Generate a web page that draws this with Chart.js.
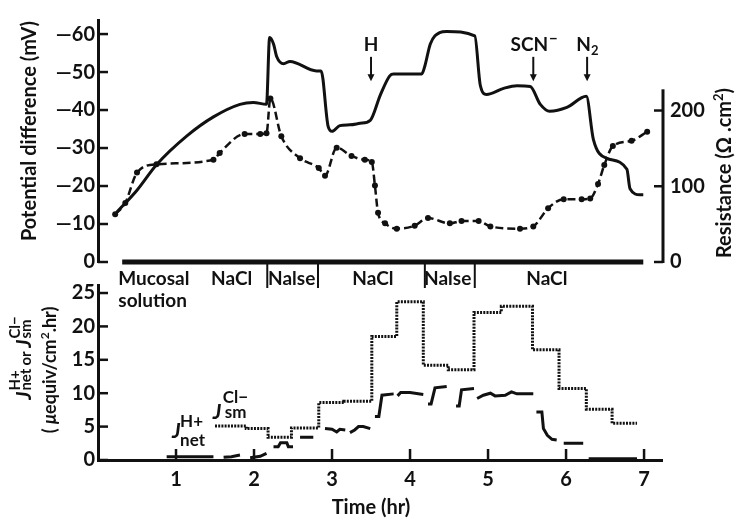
<!DOCTYPE html>
<html>
<head>
<meta charset="utf-8">
<script src="https://cdn.jsdelivr.net/npm/chart.js@4"></script>
<style>
  html, body { margin: 0; padding: 0; background: #fff; }
  #wrap { position: relative; width: 739px; height: 521px; }
  #wrap canvas { position: absolute; left: 0; top: 0; }
</style>
</head>
<body>
<div id="wrap">
  <canvas id="pd-chart" width="739" height="521"></canvas>
  <canvas id="flux-chart" width="739" height="521"></canvas>
</div>
<script>
// potential difference (mV), solid line
const pdTime = [0.24, 0.50, 0.75, 1.14, 1.48, 1.82, 1.99, 2.16, 2.20, 2.25, 2.29, 2.38, 2.46, 2.80, 2.86,
  2.95, 3.00, 3.10, 3.23, 3.36, 3.49, 3.62, 3.74, 3.79, 4.15, 4.19, 4.26, 4.38, 4.47, 4.83,
  4.90, 4.98, 5.20, 5.37, 5.54, 5.67, 5.79, 6.01, 6.26, 6.35, 6.52, 6.78, 6.82, 6.95, 6.99];
const pdValue = [-13.1, -18.9, -25.6, -33.2, -38.2, -41.5, -42.0, -41.5, -59.1, -57.4, -54.1, -52.2, -52.8, -50.3, -50.3,
  -35.7, -34.4, -35.9, -36.1, -36.5, -37.3, -44.0, -49.0, -49.5, -49.5, -51.6, -57.4, -60.4, -60.7, -59.5,
  -46.6, -44.1, -45.7, -46.4, -46.2, -41.5, -39.7, -40.7, -43.6, -32.3, -27.3, -24.4, -19.3, -17.7, -17.7];

// resistance (ohm.cm2), dashed line with dots
const resTime = [0.22, 0.35, 0.50, 0.75, 1.48, 1.56, 1.88, 2.08, 2.16, 2.21, 2.35, 2.59, 2.83, 2.91, 3.06,
  3.25, 3.42, 3.51, 3.55, 3.59, 3.68, 3.83, 4.06, 4.23, 4.51, 4.66, 4.88, 5.03, 5.41, 5.58,
  5.77, 5.97, 6.20, 6.31, 6.41, 6.49, 6.60, 6.84, 7.04];
const resValue = [63, 78, 118, 129, 135, 144, 169, 169, 170, 216, 166, 137, 124, 114, 151,
  140, 135, 132, 101, 65, 51, 44, 48, 58, 51, 54, 54, 47, 44, 47,
  71, 83, 83, 84, 103, 128, 153, 160, 172];

// J sm Cl- (dotted steps): value holds from each time to the next
const clTime = [1.50, 1.90, 2.18, 2.48, 2.83, 3.15, 3.51, 3.83, 4.17, 4.49, 4.82, 5.17, 5.57, 5.91, 6.26, 6.59, 6.91];
const clValue = [5.1, 4.7, 3.4, 4.8, 8.6, 8.8, 18.5, 23.7, 14.2, 13.5, 22.1, 23.0, 16.5, 10.7, 7.6, 5.5, 5.5];

// J net H+ (solid pieces), null = gap between pieces
const hTime = [0.88, 1.48, null, 1.61, 1.71, 1.82, null, 1.95, 2.08, 2.16, null,
  2.25, 2.31, 2.34, 2.42, 2.44, 2.50, null, 2.59, 2.76, null, 2.91, 3.00, 3.06, 3.10, 3.17, null,
  3.23, 3.29, 3.34, 3.40, 3.49, null, 3.55, 3.60, 3.64, 3.79, null, 3.84, 3.88, 4.00, 4.17, null,
  4.23, 4.27, 4.32, 4.47, null, 4.59, 4.63, 4.66, 4.82, null,
  4.86, 4.94, 5.03, 5.09, 5.22, 5.30, 5.37, 5.58, null, 5.62, 5.69, 5.71, 5.76, 5.82, 5.88, null,
  5.97, 6.22, null, 6.29, 6.91];
const hValue = [0.5, 0.5, null, 0.4, 0.5, 0.75, null, 0.35, 0.55, 1.0, null,
  2.0, 2.0, 2.6, 2.6, 2.0, 2.0, null, 3.4, 3.4, null, 4.7, 4.6, 4.2, 4.6, 4.5, null,
  4.1, 4.5, 5.0, 5.0, 4.7, null, 6.5, 6.5, 9.7, 9.9, null, 9.6, 10.1, 10.1, 9.8, null,
  8.4, 8.4, 10.8, 11.0, null, 8.1, 8.1, 10.5, 10.7, null,
  9.2, 9.7, 10.0, 9.6, 9.7, 10.2, 9.9, 9.9, null, 7.2, 7.2, 4.7, 3.7, 3.1, 3.0, null,
  2.5, 2.5, null, 0.2, 0.2];

// mucosal solution changes
const solBarTime = [0.31, 6.99];
const solSwitch = [2.17, 2.82, 4.19, 4.83];
const solLabel = ['NaCl', 'Nalse', 'NaCl', 'Nalse', 'NaCl'];
const solLabelTime = [1.45, 2.18, 3.26, 4.18, 5.49];

// additions marked with arrows
const addLabel = ['H', 'SCN', 'N'];
const addTime = [3.50, 5.58, 6.27];

const ink = '#111';
const FONT = 'Lato, "Open Sans", sans-serif';
const tickFont = { family: FONT, size: 20, weight: 'bold' };

function line(ctx, x1, y1, x2, y2) {
  ctx.beginPath();
  ctx.moveTo(x1, y1);
  ctx.lineTo(x2, y2);
  ctx.stroke();
}

// parts: {t, font, dy} or {stack: [sup, sub], font, dy: [supDy, subDy]}
function drawRich(ctx, parts, x, y, angle) {
  ctx.save();
  ctx.translate(x, y);
  ctx.rotate(angle);
  ctx.textAlign = 'left';
  ctx.textBaseline = 'alphabetic';
  const widths = parts.map(p => {
    ctx.font = p.font;
    const w = p.stack
      ? Math.max(ctx.measureText(p.stack[0]).width, ctx.measureText(p.stack[1]).width)
      : ctx.measureText(p.t).width;
    return w + (p.gap || 0);
  });
  let cx = -widths.reduce((a, b) => a + b, 0) / 2;
  parts.forEach((p, i) => {
    ctx.font = p.font;
    if (p.stack) {
      ctx.fillText(p.stack[0], cx, p.dy[0]);
      ctx.fillText(p.stack[1], cx, p.dy[1]);
    } else {
      ctx.fillText(p.t, cx, p.dy || 0);
    }
    cx += widths[i];
  });
  ctx.restore();
}

const pdDecor = {
  id: 'pdDecor',
  afterDraw(chart) {
    const { ctx, chartArea: a, scales: { x, yPd, yRes } } = chart;
    ctx.save();
    ctx.strokeStyle = ink;
    ctx.fillStyle = ink;

    // inward ticks
    ctx.lineWidth = 2.5;
    yPd.ticks.forEach(t => {
      const y = yPd.getPixelForValue(t.value);
      line(ctx, a.left, y, a.left + 10, y);
    });
    const rx = a.right + 1;
    yRes.ticks.forEach(t => {
      const y = yRes.getPixelForValue(t.value);
      line(ctx, rx - 9, y, rx, y);
    });
    ctx.lineWidth = 3;
    line(ctx, rx, yRes.getPixelForValue(0) + 1, rx, yRes.getPixelForValue(228));

    // solution bar and change marks
    const y0 = yPd.getPixelForValue(0);
    ctx.lineWidth = 5;
    line(ctx, x.getPixelForValue(solBarTime[0]), y0, x.getPixelForValue(solBarTime[1]), y0);
    ctx.lineWidth = 2;
    solSwitch.forEach(t => {
      const sx = x.getPixelForValue(t);
      line(ctx, sx, y0, sx, y0 + 26);
    });

    ctx.font = 'bold 19px ' + FONT;
    ctx.textAlign = 'left';
    ctx.textBaseline = 'alphabetic';
    ctx.fillText('Mucosal', x.getPixelForValue(0.26), y0 + 23);
    ctx.fillText('solution', x.getPixelForValue(0.26), y0 + 45);
    solLabel.forEach((s, i) => ctx.fillText(s, x.getPixelForValue(solLabelTime[i]), y0 + 23));

    // additions
    const yA = yPd.getPixelForValue(-54);
    const yB = yPd.getPixelForValue(-47.6);
    addTime.forEach((t, i) => {
      const ax = x.getPixelForValue(t);
      ctx.lineWidth = 2;
      line(ctx, ax, yA, ax, yB - 4);
      ctx.beginPath();
      ctx.moveTo(ax - 3.5, yB - 7);
      ctx.lineTo(ax + 3.5, yB - 7);
      ctx.lineTo(ax, yB);
      ctx.closePath();
      ctx.fill();
      ctx.font = 'bold 19px ' + FONT;
      ctx.textAlign = 'center';
      const ty = yA - 6;
      if (i === 0) {
        ctx.fillText(addLabel[i], ax, ty);
      } else if (i === 1) {
        ctx.textAlign = 'left';
        const w = ctx.measureText(addLabel[i]).width;
        const sx = ax - (w + 8) / 2;
        ctx.fillText(addLabel[i], sx, ty);
        ctx.font = 'bold 15px ' + FONT;
        ctx.fillText('\u2212', sx + w + 1, ty - 7);
      } else {
        ctx.textAlign = 'left';
        const w = ctx.measureText(addLabel[i]).width;
        const sx = ax - (w + 7) / 2;
        ctx.fillText(addLabel[i], sx, ty);
        ctx.font = 'bold 13px ' + FONT;
        ctx.fillText('2', sx + w, ty + 4);
      }
    });

    // axis titles
    drawRich(ctx, [{ t: 'Potential difference (mV)', font: 'bold 20px ' + FONT }], 36, 131, -Math.PI / 2);
    drawRich(ctx, [
      { t: 'Resistance (\u03a9 .cm', font: 'bold 20px ' + FONT },
      { t: '2', font: 'bold 13px ' + FONT, dy: -8 },
      { t: ')', font: 'bold 20px ' + FONT }
    ], 731, 173, -Math.PI / 2);
    ctx.restore();
  }
};

const fluxDecor = {
  id: 'fluxDecor',
  afterDraw(chart) {
    const { ctx, chartArea: a, scales: { x, y } } = chart;
    ctx.save();
    ctx.strokeStyle = ink;
    ctx.fillStyle = ink;
    ctx.lineWidth = 2.5;
    y.ticks.forEach(t => {
      const py = y.getPixelForValue(t.value);
      line(ctx, a.left, py, a.left + 10, py);
    });
    x.ticks.forEach(t => {
      if (t.value === 0) return;
      const px = x.getPixelForValue(t.value);
      line(ctx, px, a.bottom, px, a.bottom - 11);
    });

    ctx.font = 'bold 20px ' + FONT;
    ctx.textAlign = 'center';
    ctx.textBaseline = 'alphabetic';
    ctx.fillText('Time (hr)', 371, 514);

    // y title, two rotated lines
    const small = 'bold 15px ' + FONT;
    const jf = 'italic bold 20px ' + FONT;
    drawRich(ctx, [
      { t: 'J', font: jf, gap: 1 },
      { stack: ['H+', 'net'], font: small, dy: [-11, 0], gap: 3 },
      { t: 'or ', font: small },
      { t: 'J', font: jf, gap: 1 },
      { stack: ['Cl\u2212', 'sm'], font: small, dy: [-11, 0] }
    ], 31, 358, -Math.PI / 2);
    drawRich(ctx, [
      { t: '( ', font: 'bold 18px ' + FONT },
      { t: '\u03bc', font: 'italic bold 18px ' + FONT },
      { t: 'equiv/cm', font: 'bold 18px ' + FONT },
      { t: '2', font: 'bold 12px ' + FONT, dy: -7 },
      { t: '.hr)', font: 'bold 18px ' + FONT }
    ], 56, 370, -Math.PI / 2);

    // series labels inside the plot
    const lx1 = x.getPixelForValue(1.47);
    const ly1 = y.getPixelForValue(6.1);
    ctx.textAlign = 'left';
    ctx.font = 'italic bold 21px ' + FONT;
    ctx.fillText('J', lx1, ly1);
    ctx.font = 'bold 17px ' + FONT;
    ctx.fillText('Cl\u2212', lx1 + 10, ly1 - 16);
    ctx.fillText('sm', lx1 + 12, ly1 - 1);

    const lx2 = x.getPixelForValue(0.95);
    const ly2 = y.getPixelForValue(3.3);
    ctx.font = 'italic bold 21px ' + FONT;
    ctx.fillText('J', lx2, ly2);
    ctx.font = 'bold 17px ' + FONT;
    ctx.fillText('H+', lx2 + 8, ly2 - 11);
    ctx.fillText('net', lx2 + 8, ly2 + 8);
    ctx.restore();
  }
};

const common = {
  responsive: false,
  animation: false,
  events: [],
  plugins: { legend: { display: false }, tooltip: { enabled: false } }
};

new Chart(document.getElementById('pd-chart'), {
  type: 'line',
  data: {
    datasets: [
      {
        label: 'Potential difference',
        data: pdTime.map((t, i) => ({ x: t, y: pdValue[i] })),
        yAxisID: 'yPd',
        borderColor: ink,
        borderWidth: 3,
        pointRadius: 0,
        cubicInterpolationMode: 'monotone',
        clip: false
      },
      {
        label: 'Resistance',
        data: resTime.map((t, i) => ({ x: t, y: resValue[i] })),
        yAxisID: 'yRes',
        borderColor: ink,
        borderWidth: 2.5,
        borderDash: [8, 4],
        pointRadius: 3,
        pointBackgroundColor: ink,
        pointBorderWidth: 0,
        cubicInterpolationMode: 'monotone',
        clip: false
      }
    ]
  },
  options: {
    ...common,
    layout: { padding: { top: 8, bottom: 259, left: 0, right: 0 } },
    scales: {
      x: { type: 'linear', min: 0, max: 7.23, display: false },
      yPd: {
        position: 'left',
        min: -63.7,
        max: 0,
        reverse: true,
        afterFit: s => { s.width = 98; },
        grid: { display: false, drawTicks: false },
        border: { display: true, width: 3, color: ink },
        ticks: {
          stepSize: 10,
          includeBounds: false,
          padding: 3,
          color: ink,
          font: tickFont,
          callback: v => (v === 0 ? '0' : '\u2014' + Math.abs(v))
        }
      },
      yRes: {
        position: 'right',
        min: 0,
        max: 319.5,
        afterFit: s => { s.width = 77; },
        afterBuildTicks: s => { s.ticks = s.ticks.filter(t => t.value <= 228); },
        grid: { display: false, drawTicks: false },
        border: { display: false },
        ticks: { stepSize: 100, includeBounds: false, padding: 8, color: ink, font: tickFont }
      }
    }
  },
  plugins: [pdDecor]
});

new Chart(document.getElementById('flux-chart'), {
  type: 'line',
  data: {
    datasets: [
      {
        label: 'J sm Cl-',
        data: clTime.map((t, i) => ({ x: t, y: clValue[i] })),
        borderColor: ink,
        borderWidth: 3,
        borderDash: [2, 1.2],
        pointRadius: 0,
        stepped: true
      },
      {
        label: 'J net H+',
        data: hTime.map((t, i) => ({ x: t === null ? hTime[i - 1] : t, y: hValue[i] })),
        borderColor: ink,
        borderWidth: 3,
        pointRadius: 0,
        spanGaps: false,
        tension: 0
      }
    ]
  },
  options: {
    ...common,
    layout: { padding: { top: 285, bottom: 0, left: 0, right: 77 } },
    scales: {
      x: {
        type: 'linear',
        min: 0,
        max: 7.23,
        afterFit: s => { s.height = 61; },
        grid: { display: false, drawTicks: false },
        border: { display: true, width: 3, color: ink },
        ticks: {
          stepSize: 1,
          includeBounds: false,
          padding: 8,
          maxRotation: 0,
          autoSkip: false,
          color: ink,
          font: tickFont,
          callback: v => (v === 0 ? '' : v)
        }
      },
      y: {
        min: 0,
        max: 26.2,
        afterFit: s => { s.width = 98; },
        grid: { display: false, drawTicks: false },
        border: { display: true, width: 3, color: ink },
        ticks: { stepSize: 5, includeBounds: false, padding: 3, color: ink, font: tickFont }
      }
    }
  },
  plugins: [fluxDecor]
});
</script>
</body>
</html>
